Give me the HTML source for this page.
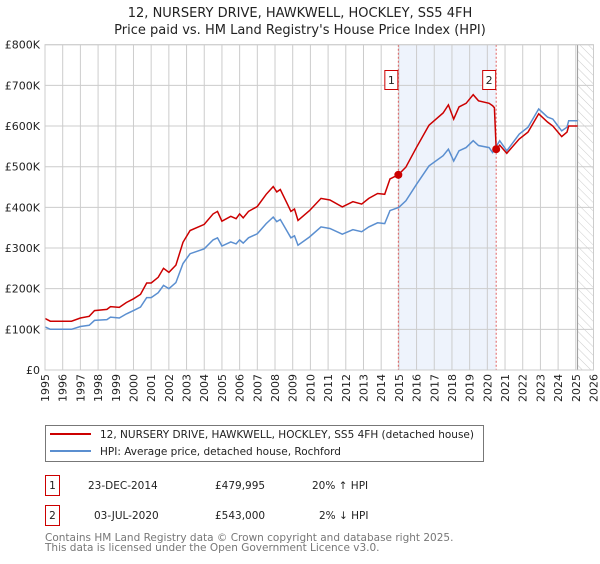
<!DOCTYPE html>
<html><head><meta charset="utf-8"><style>
body{margin:0;background:#fff;font-family:"DejaVu Sans","Liberation Sans",sans-serif;}
svg text{font-family:"DejaVu Sans","Liberation Sans",sans-serif;}
</style></head><body>
<svg id="chart" width="600" height="560" viewBox="0 0 600 560" xmlns="http://www.w3.org/2000/svg">
<text x="300" y="17" text-anchor="middle" font-size="13" fill="#222">12, NURSERY DRIVE, HAWKWELL, HOCKLEY, SS5 4FH</text>
<text x="300" y="34" text-anchor="middle" font-size="13" fill="#222">Price paid vs. HM Land Registry's House Price Index (HPI)</text>
<defs><pattern id="hatch" width="6" height="6" patternUnits="userSpaceOnUse" patternTransform="rotate(-45)"><line x1="0" y1="0" x2="0" y2="6" stroke="#ccc" stroke-width="1"/></pattern></defs>
<g id="plot"></g>
<g>
<rect x="45.5" y="425.5" width="438" height="36" fill="#fff" stroke="#777"/>
<line x1="50" y1="434" x2="91" y2="434" stroke="#cc0000" stroke-width="2"/>
<text x="100" y="438" font-size="10.5" fill="#222">12, NURSERY DRIVE, HAWKWELL, HOCKLEY, SS5 4FH (detached house)</text>
<line x1="50" y1="451" x2="91" y2="451" stroke="#5b8fd0" stroke-width="2"/>
<text x="100" y="455" font-size="10.5" fill="#222">HPI: Average price, detached house, Rochford</text>
</g>
<g font-size="10.5" fill="#222">
<rect x="45.5" y="475.5" width="14" height="20" fill="#fff" stroke="#cc0000"/>
<text x="52.5" y="489" text-anchor="middle">1</text>
<text x="88" y="489">23-DEC-2014</text>
<text x="215" y="489">£479,995</text>
<text x="312" y="489">20% ↑ HPI</text>
<rect x="45.5" y="505.5" width="14" height="20" fill="#fff" stroke="#cc0000"/>
<text x="52.5" y="519" text-anchor="middle">2</text>
<text x="94" y="519">03-JUL-2020</text>
<text x="215" y="519">£543,000</text>
<text x="319" y="519">2% ↓ HPI</text>
</g>
<text x="45" y="541" font-size="10.5" fill="#777">Contains HM Land Registry data © Crown copyright and database right 2025.</text>
<text x="45" y="551" font-size="10.5" fill="#777">This data is licensed under the Open Government Licence v3.0.</text>
</svg>
<script>
const hpiYears=[1995.0,1995.3,1996.5,1997.0,1997.5,1997.8,1998.5,1998.7,1999.2,1999.6,2000.0,2000.4,2000.75,2001.0,2001.4,2001.7,2002.0,2002.4,2002.8,2003.2,2004.0,2004.5,2004.75,2005.0,2005.5,2005.8,2006.0,2006.2,2006.5,2007.0,2007.5,2007.9,2008.1,2008.3,2008.7,2008.9,2009.1,2009.3,2009.95,2010.6,2011.1,2011.8,2012.4,2012.9,2013.3,2013.8,2014.2,2014.5,2015.0,2015.4,2016.0,2016.7,2017.5,2017.8,2018.1,2018.4,2018.8,2019.2,2019.5,2020.1,2020.3,2020.7,2021.1,2021.8,2022.3,2022.9,2023.4,2023.7,2024.2,2024.5,2024.6,2025.1];
const hpiValues=[106,100,100,107,110,122,124,130,128,138,146,155,178,178,190,208,200,215,262,286,298,320,325,305,315,310,320,312,325,335,360,376,365,370,340,325,330,307,327,352,348,334,345,340,352,362,360,392,400,416,457,502,527,543,514,539,547,564,552,547,535,564,539,580,597,642,622,617,588,597,613,613];
const propYears=[1995.0,1995.3,1996.5,1997.0,1997.5,1997.8,1998.5,1998.7,1999.2,1999.6,2000.0,2000.4,2000.75,2001.0,2001.4,2001.7,2002.0,2002.4,2002.8,2003.2,2004.0,2004.5,2004.75,2005.0,2005.5,2005.8,2006.0,2006.2,2006.5,2007.0,2007.5,2007.9,2008.1,2008.3,2008.7,2008.9,2009.1,2009.3,2009.95,2010.6,2011.1,2011.8,2012.4,2012.9,2013.3,2013.8,2014.2,2014.5,2014.97,2015.4,2016.0,2016.7,2017.5,2017.8,2018.1,2018.4,2018.8,2019.2,2019.5,2020.1,2020.3,2020.4,2020.5,2020.7,2021.1,2021.8,2022.3,2022.9,2023.4,2023.7,2024.2,2024.5,2024.6,2025.1];
const propValues=[127,120,120,128,132,146,149,156,154,166,175,186,214,214,228,250,240,258,314,343,358,384,390,366,378,372,384,374,390,402,432,451,438,444,408,390,396,368,392,422,418,401,414,408,422,434,432,470,480,499,548,602,632,652,617,647,656,677,662,656,650,645,543,553,533,568,585,630,610,600,574,585,600,600];
const saleYears=[2014.97,2020.5];
const saleValues=[479.995,543];
const saleLabels=["1","2"];
const yTicks=[0,100,200,300,400,500,600,700,800];
const yTickLabels=["£0","£100K","£200K","£300K","£400K","£500K","£600K","£700K","£800K"];
const xTicks=[1995,1996,1997,1998,1999,2000,2001,2002,2003,2004,2005,2006,2007,2008,2009,2010,2011,2012,2013,2014,2015,2016,2017,2018,2019,2020,2021,2022,2023,2024,2025,2026];
const dataEnd=2025.1;

const L=45,R=593.5,T=44.7,B=370;
const X=y=>L+(y-1995)/(2026-1995)*(R-L);
const Y=v=>B-v/800*(B-T);
const NS="http://www.w3.org/2000/svg";
const g=document.getElementById('plot');
function mk(tag,attrs){const e=document.createElementNS(NS,tag);for(const k in attrs)e.setAttribute(k,attrs[k]);g.appendChild(e);return e;}
let sh=mk('rect',{x:X(saleYears[0]),y:T,width:X(saleYears[1])-X(saleYears[0]),height:B-T,fill:'#eef3fc'});


let ht=mk('rect',{x:X(dataEnd),y:T,width:R-X(dataEnd),height:B-T,fill:'url(#hatch)'});


xTicks.forEach(t=>{const l=mk('line',{x1:X(t),x2:X(t),y1:T,y2:B,stroke:'#ccc','stroke-width':1});


const tx=mk('text',{x:0,y:0,'font-size':11,fill:'#222','text-anchor':'end',transform:`translate(${X(t)+4},374) rotate(-90)`});


tx.textContent=t;});
yTicks.forEach((v,i)=>{const l=mk('line',{x1:L,x2:R,y1:Y(v),y2:Y(v),stroke:'#ccc','stroke-width':1});


const tx=mk('text',{x:40,y:Y(v)+4,'font-size':11,fill:'#222','text-anchor':'end'});


tx.textContent=yTickLabels[i];});
const endLine=mk('line',{x1:X(dataEnd),x2:X(dataEnd),y1:T,y2:B,stroke:'#999','stroke-width':1});


saleYears.forEach((s,i)=>{const l=mk('line',{x1:X(s),x2:X(s),y1:T,y2:B,stroke:'#e06060','stroke-width':1,'stroke-dasharray':'2,2'});

});
const pts=(xs,vs)=>xs.map((t,i)=>X(t).toFixed(1)+','+Y(vs[i]).toFixed(1)).join(' ');
const hp=mk('polyline',{points:pts(hpiYears,hpiValues),fill:'none',stroke:'#5b8fd0','stroke-width':1.5});


const pp=mk('polyline',{points:pts(propYears,propValues),fill:'none',stroke:'#cc0000','stroke-width':1.5});


saleYears.forEach((s,i)=>{const c=mk('circle',{cx:X(s),cy:Y(saleValues[i]),r:4,fill:'#cc0000'});


const r=mk('rect',{x:X(s)-13.5,y:70.5,width:13,height:19,fill:'#fff',stroke:'#cc0000'});


const t=mk('text',{x:X(s)-7,y:84,'font-size':11,fill:'#222','text-anchor':'middle'});


t.textContent=saleLabels[i];});
const fr=mk('rect',{x:L,y:T,width:R-L,height:B-T,fill:'none',stroke:'#ccc'});


</script>
</body></html>
